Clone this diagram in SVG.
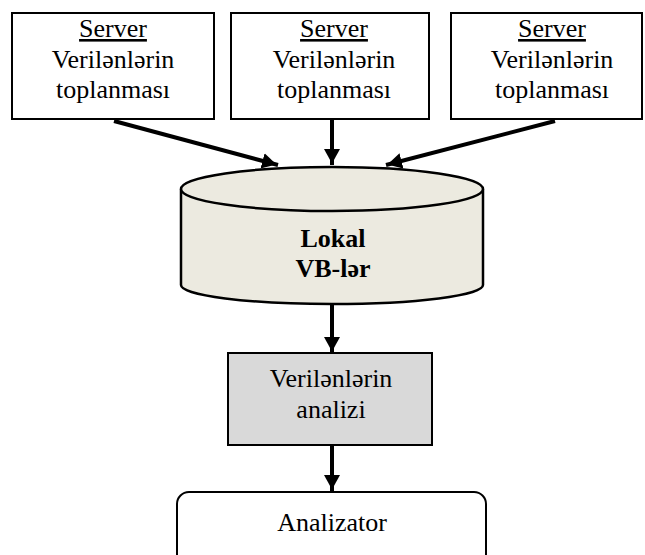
<svg xmlns="http://www.w3.org/2000/svg" width="645" height="555" viewBox="0 0 645 555">
<defs>
<marker id="ah" markerWidth="4" markerHeight="4" refX="4" refY="2" orient="auto" markerUnits="strokeWidth">
<path d="M0,0 L3.6,2 L0,4 Z" fill="#000"/>
</marker>
<style>
.box{fill:#fff;stroke:#000;stroke-width:2}
.t{font-family:"Liberation Serif","Times New Roman",serif;font-size:26px;fill:#000;text-anchor:middle}
.b{font-weight:bold}
.c{stroke:#000;stroke-width:4;fill:none;marker-end:url(#ah)}
</style>
</defs>
<rect width="645" height="555" fill="#fff"/>
<g id="server1">
<rect class="box" x="12" y="13" width="202" height="106"/>
<text class="t" x="113" y="37" text-decoration="underline">Server</text>
<text class="t" x="113" y="68">Verilənlərin</text>
<text class="t" x="113" y="98">toplanması</text>
</g>
<g id="server2">
<rect class="box" x="231" y="13" width="198" height="106"/>
<text class="t" x="334" y="37" text-decoration="underline">Server</text>
<text class="t" x="334" y="68">Verilənlərin</text>
<text class="t" x="334" y="98">toplanması</text>
</g>
<g id="server3">
<rect class="box" x="451" y="13" width="191" height="106"/>
<text class="t" x="552" y="37" text-decoration="underline">Server</text>
<text class="t" x="552" y="68">Verilənlərin</text>
<text class="t" x="552" y="98">toplanması</text>
</g>
<g id="db">
<path d="M181,189 L181,285 A151,19 0 0 0 483,285 L483,189" fill="#ECEAE0" stroke="#000" stroke-width="2.5"/>
<ellipse cx="332" cy="189" rx="151" ry="22" fill="#ECEAE0" stroke="#000" stroke-width="2.5"/>
<text class="t b" x="333" y="247">Lokal</text>
<text class="t b" x="333" y="277">VB-lər</text>
</g>
<g id="analiz">
<rect x="228" y="353" width="204" height="92" fill="#D9D9D9" stroke="#000" stroke-width="2"/>
<text class="t" x="331" y="387">Verilənlərin</text>
<text class="t" x="331" y="418">analizi</text>
</g>
<g id="analizator">
<rect x="177" y="492" width="309" height="80" rx="12" ry="12" fill="#fff" stroke="#000" stroke-width="2"/>
<text class="t" x="332" y="531">Analizator</text>
</g>
<g id="connectors">
<line class="c" x1="114" y1="121" x2="278" y2="165"/>
<line class="c" x1="332" y1="120" x2="332" y2="165"/>
<line class="c" x1="555" y1="121" x2="386" y2="165"/>
<line class="c" x1="332" y1="305" x2="332" y2="353"/>
<line class="c" x1="332" y1="446" x2="332" y2="491"/>
</g>
</svg>
